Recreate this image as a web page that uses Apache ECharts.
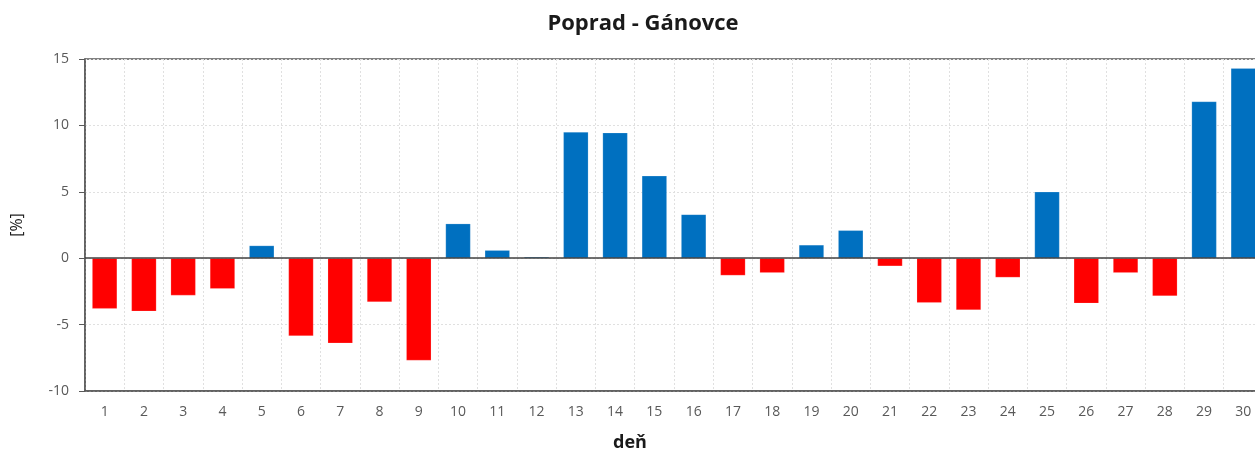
<!DOCTYPE html>
<html>
<head>
<meta charset="utf-8">
<script src="https://cdn.jsdelivr.net/npm/echarts@6/dist/echarts.min.js"></script>
<style>
  html, body { margin: 0; padding: 0; background: #fff; overflow: hidden; }
  /* the plot runs slightly past the right edge of the window */
  #chart { width: 1263px; height: 452px; }
</style>
</head>
<body>
<div id="chart"></div>
<script>
// Daily deviation (%) for the Poprad - Gánovce station
const days = ['1','2','3','4','5','6','7','8','9','10','11','12','13','14','15','16','17','18','19','20','21','22','23','24','25','26','27','28','29','30'];
const deviation = [-3.8, -4.0, -2.8, -2.3, 0.95, -5.85, -6.4, -3.3, -7.7, 2.6, 0.6, 0.1, 9.5, 9.45, 6.2, 3.3, -1.3, -1.1, 1.0, 2.1, -0.6, -3.35, -3.9, -1.45, 5.0, -3.4, -1.1, -2.85, 11.8, 14.3];
const yTicks = [-10, -5, 0, 5, 10, 15];

const POS = '#0070c0';
const NEG = '#ff0000';
const FONT = '"Open Sans", "DejaVu Sans", sans-serif';

const chart = echarts.init(document.getElementById('chart'), null, { renderer: 'canvas' });

chart.setOption({
  animation: false,
  title: {
    text: 'Poprad - Gánovce',
    left: 638,
    top: 8,
    textAlign: 'center',
    textStyle: { fontFamily: FONT, fontSize: 22, fontWeight: 'bold', color: '#1a1a1a' }
  },
  graphic: [{
    type: 'text',
    left: 613,
    top: 434,
    style: { text: 'deň', fontFamily: FONT, fontSize: 18, fontWeight: 'bold', fill: '#1a1a1a' }
  }],
  grid: {
    left: 85,
    top: 59,
    right: 0,
    height: 332,
    show: true,
    borderColor: '#595959',
    borderWidth: 1.5
  },
  xAxis: {
    type: 'category',
    data: days,
    boundaryGap: true,
    axisLine: { onZero: false, lineStyle: { color: '#595959', width: 1.5 } },
    axisTick: { show: false },
    axisLabel: { color: '#595959', fontFamily: FONT, fontSize: 14, margin: 14, interval: 0 },
    splitLine: { show: true, lineStyle: { color: '#e0e0e0', type: [2, 2], width: 1 } }
  },
  yAxis: {
    type: 'value',
    min: yTicks[0],
    max: yTicks[yTicks.length - 1],
    interval: 5,
    name: '[%]',
    nameLocation: 'middle',
    nameGap: 60,
    nameTextStyle: { fontFamily: FONT, fontSize: 16, color: '#1a1a1a' },
    axisLine: { show: true, lineStyle: { color: '#595959', width: 1.5 } },
    axisTick: { show: true, length: 6, lineStyle: { color: '#595959' } },
    axisLabel: { color: '#595959', fontFamily: FONT, fontSize: 14, margin: 16 },
    splitLine: { show: true, lineStyle: { color: '#e0e0e0', type: [2, 2], width: 1 } }
  },
  series: [{
    type: 'bar',
    data: deviation.map(v => ({
      value: v,
      itemStyle: { color: v >= 0 ? POS : NEG }
    })),
    barWidth: 25,
    itemStyle: { borderColor: 'rgba(255,255,255,0.35)', borderWidth: 0.5 },
    markLine: {
      silent: true,
      symbol: 'none',
      label: { show: false },
      lineStyle: { color: '#404040', type: 'solid', width: 1.5 },
      data: [{ yAxis: 0 }]
    }
  }]
});
</script>
</body>
</html>
